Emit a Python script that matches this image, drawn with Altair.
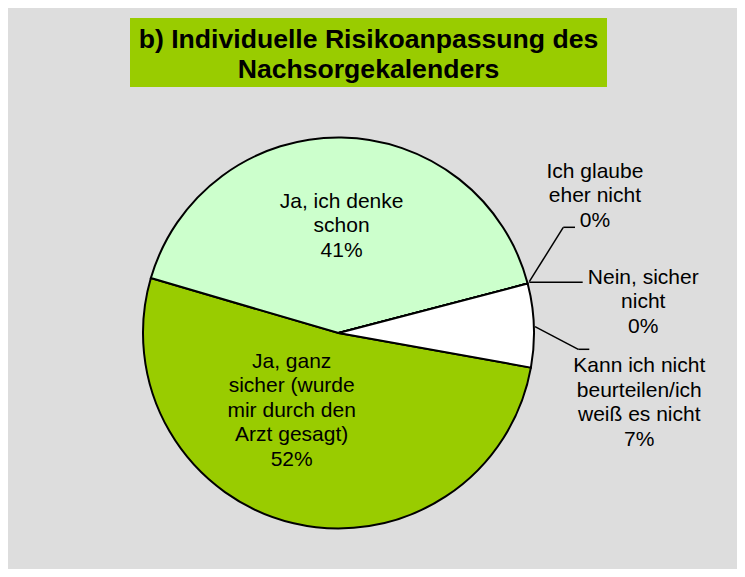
import math
import altair as alt
import pandas as pd

# ---- data ----
categories = [
    "Ja, ganz sicher (wurde mir durch den Arzt gesagt)",
    "Ja, ich denke schon",
    "Ich glaube eher nicht",
    "Nein, sicher nicht",
    "Kann ich nicht beurteilen/ich weiß es nicht",
]
shares = [51.7, 41.4, 0.0, 0.0, 6.9]
pct_labels = ["52%", "41%", "0%", "0%", "7%"]
label_lines = [
    ["Ja, ganz", "sicher (wurde", "mir durch den", "Arzt gesagt)"],
    ["Ja, ich denke", "schon"],
    ["Ich glaube", "eher nicht"],
    ["Nein, sicher", "nicht"],
    ["Kann ich nicht", "beurteilen/ich", "weiß es nicht"],
]
slice_colors = ["#99cc00", "#ccffcc", "#9999ff", "#993366", "#ffffff"]
title_lines = ["b) Individuelle Risikoanpassung des", "Nachsorgekalenders"]

df = pd.DataFrame({
    "category": categories,
    "share": shares,
    "order": list(range(len(categories))),
    "label": ["\n".join(l + [p]) for l, p in zip(label_lines, pct_labels)],
})

# ---- layout / style ----
W, H = 729, 561
CX, CY, R = 330.5, 325, 195.5
start = math.radians(100.2)
total = sum(shares)
theta_scale = alt.Scale(domain=[0, total], range=[start, start + 2 * math.pi])
FONT = "Liberation Sans"
LH = 24.5

base = alt.Chart(df)

arcs = base.mark_arc(stroke="black", strokeWidth=2, radius=R).encode(
    theta=alt.Theta("share:Q", stack=True, scale=theta_scale),
    color=alt.Color("category:N", scale=alt.Scale(domain=categories, range=slice_colors), legend=None),
    order=alt.Order("order:Q"),
    x=alt.value(CX),
    y=alt.value(CY),
)

label_style = [
    # (radius, dx, dy) per slice label
    (80, -28.5, -2 * LH),
    (108, 1.5, -1 * LH + 1),
    (265, 0, -70 - 1 * LH),
    (315, 0, 49 - 1 * LH),
    (301, 0, 45),
]

text_layers = []
for i, (rad, dx, dy) in enumerate(label_style):
    t = (
        base.transform_window(cum="sum(share)", sort=[alt.SortField("order")], frame=[None, 0])
        .transform_calculate(mid="datum.cum - datum.share / 2")
        .transform_filter(alt.datum.order == i)
        .mark_text(radius=rad, dx=dx, dy=dy, lineBreak="\n", font=FONT, fontSize=21,
                   lineHeight=LH, align="center", baseline="middle", color="black")
        .encode(
            theta=alt.Theta("mid:Q", scale=theta_scale),
            text="label:N",
            x=alt.value(CX),
            y=alt.value(CY),
        )
    )
    text_layers.append(t)

one = alt.Chart(pd.DataFrame({"k": [0]}))
leader_segments = [
    (521.3, 273.7, 555.3, 219.3),
    (555.3, 219.3, 567.0, 219.3),
    (521.3, 274.3, 574.7, 274.3),
    (527.0, 318.7, 570.3, 341.3),
    (570.3, 341.3, 581.3, 341.3),
]
leaders = [
    one.mark_rule(color="black", strokeWidth=1.5).encode(
        x=alt.value(a), y=alt.value(b), x2=alt.value(c), y2=alt.value(d))
    for a, b, c, d in leader_segments
]

title_box = one.mark_rect(color="#99cc00").encode(
    x=alt.value(122), x2=alt.value(599), y=alt.value(10), y2=alt.value(79))
title_text = one.mark_text(font=FONT, fontSize=26.6, fontWeight="bold", align="center",
                           baseline="alphabetic", lineHeight=30, color="black").encode(
    x=alt.value(360.5), y=alt.value(40), text=alt.value(title_lines))

chart = alt.layer(title_box, title_text, arcs, *leaders, *text_layers).properties(
    width=W, height=H, background="#dddddd", padding=0,
    autosize=alt.AutoSizeParams(type="none"),
).configure_view(stroke=None)

chart.save("out.html", embed_options={"renderer": "svg", "actions": False})
